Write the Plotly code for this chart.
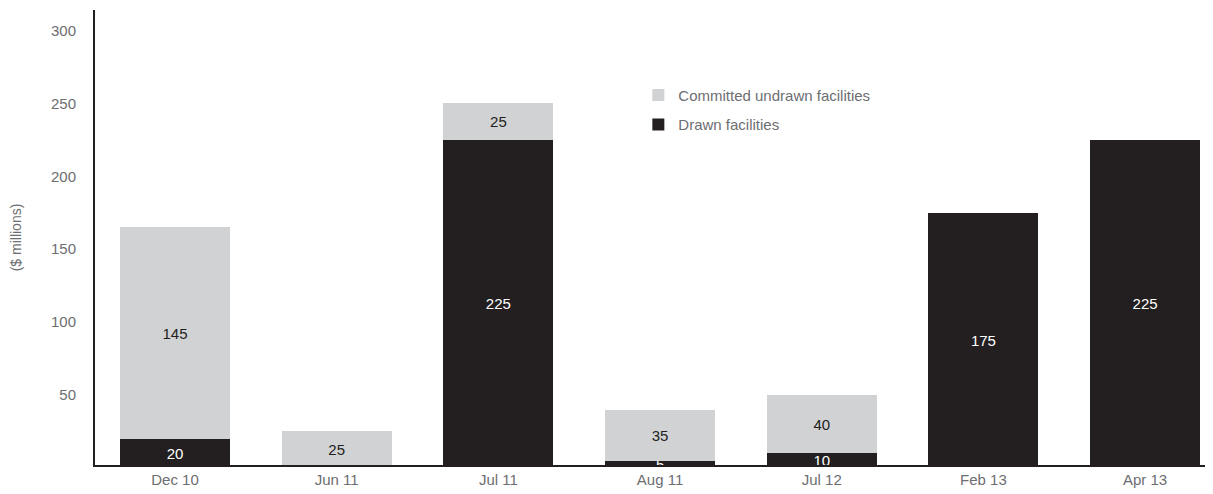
import plotly.graph_objects as go

categories = ["Dec 10", "Jun 11", "Jul 11", "Aug 11", "Jul 12", "Feb 13", "Apr 13"]
drawn = [20, 0, 225, 5, 10, 175, 225]
undrawn = [145, 25, 25, 35, 40, 0, 0]
tick_vals = [50, 100, 150, 200, 250, 300]

GRAY = "#d1d2d4"
BLACK = "#231f20"
FONT = "Liberation Sans"
TXT = "#6d6e71"

def labels(vals):
    return [str(v) if v else "" for v in vals]

fig = go.Figure()
fig.add_trace(go.Bar(
    x=categories, y=drawn, name="Drawn facilities",
    marker=dict(color=BLACK, line=dict(width=0)),
    text=labels(drawn), textposition="inside", insidetextanchor="middle",
    constraintext="none", textangle=0,
    textfont=dict(family=FONT, size=15, color="white"),
    legendgroup="b", legendrank=2, hoverinfo="skip",
))
fig.add_trace(go.Bar(
    x=categories, y=undrawn, name="Committed undrawn facilities",
    marker=dict(color=GRAY, line=dict(width=0)),
    text=labels(undrawn), textposition="inside", insidetextanchor="middle",
    constraintext="none", textangle=0,
    textfont=dict(family=FONT, size=15, color=BLACK),
    legendgroup="a", legendrank=1, hoverinfo="skip",
))

fig.update_layout(
    barmode="stack",
    bargap=0.32,
    width=1205, height=486,
    margin=dict(l=87, r=0, t=2, b=29),
    plot_bgcolor="white", paper_bgcolor="white",
    font=dict(family=FONT, size=15, color=TXT),
    showlegend=True,
    legend=dict(
        x=0.486, y=0.849, xanchor="left", yanchor="top",
        traceorder="grouped", tracegroupgap=7,
        font=dict(family=FONT, size=15, color=TXT),
        bgcolor="rgba(0,0,0,0)",
    ),
    xaxis=dict(
        range=[-0.495, 6.42], automargin=False,
        showline=True, linecolor=BLACK, linewidth=2,
        ticks="", showgrid=False, zeroline=False,
        tickfont=dict(family=FONT, size=15, color=TXT),
    ),
    yaxis=dict(
        range=[2, 314], automargin=False,
        showline=True, linecolor=BLACK, linewidth=2,
        tickvals=tick_vals, ticks="", ticklabelstandoff=14,
        showgrid=False, zeroline=False,
        tickfont=dict(family=FONT, size=15, color=TXT),
        title=dict(text="($ millions)", standoff=26,
                   font=dict(family=FONT, size=14, color=TXT)),
    ),
)

fig.write_html("out.html")
